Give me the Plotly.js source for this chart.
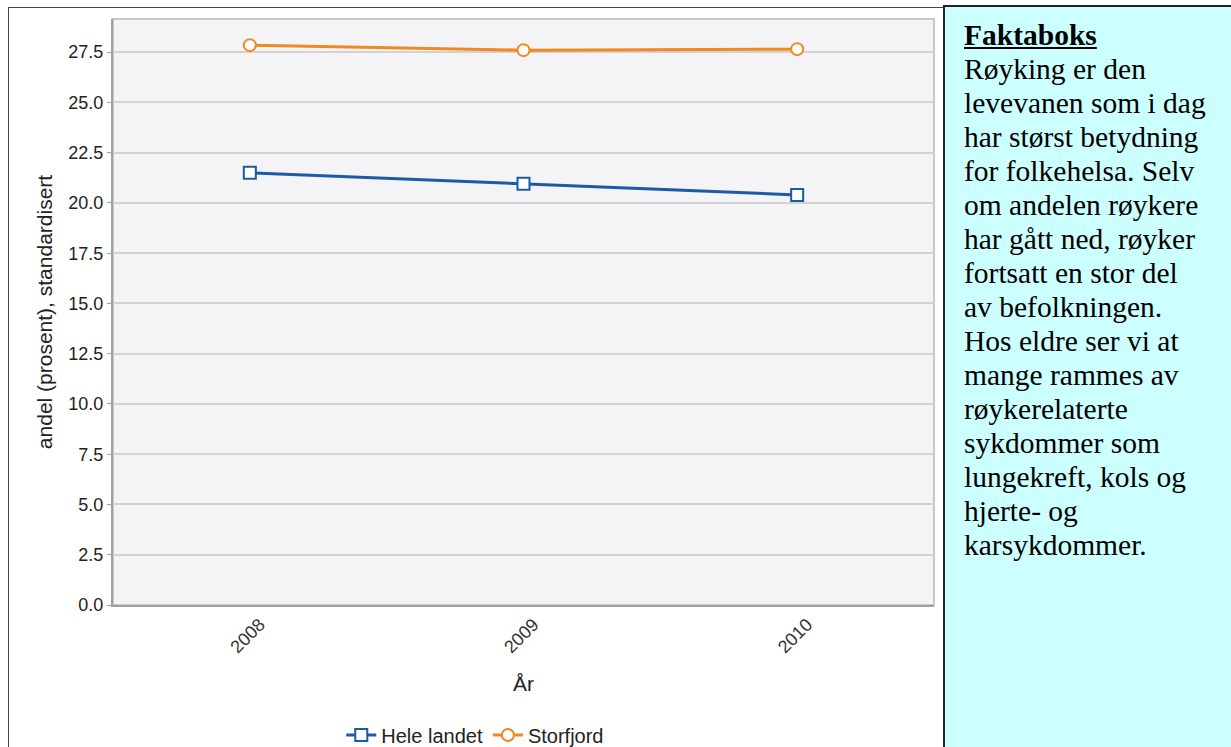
<!DOCTYPE html>
<html>
<head>
<meta charset="utf-8">
<script src="https://cdn.plot.ly/plotly-3.0.1.min.js"></script>
<style>
  html, body { margin:0; padding:0; width:1231px; height:747px; overflow:hidden; background:#ffffff; }
  #frame { position:absolute; left:8px; top:7px; width:936px; height:760px; border:1px solid #444; box-sizing:border-box; }
  #chart { position:absolute; left:0; top:0; width:943px; height:747px; }
  #box { position:absolute; left:943px; top:5px; width:300px; height:760px; background:#ccffff; border:2px solid #222; box-sizing:border-box;
         padding:11px 0 0 19px; font-family:"Liberation Serif","Times New Roman",serif; font-size:29.5px; line-height:34px; color:#000; white-space:nowrap; }
  #box b { text-decoration:underline; }
</style>
</head>
<body>
<div id="frame"></div>
<div id="chart"></div>
<div id="box"><b>Faktaboks</b><br>Røyking er den<br>levevanen som i dag<br>har størst betydning<br>for folkehelsa. Selv<br>om andelen røykere<br>har gått ned, røyker<br>fortsatt en stor del<br>av befolkningen.<br>Hos eldre ser vi at<br>mange rammes av<br>røykerelaterte<br>sykdommer som<br>lungekreft, kols og<br>hjerte- og<br>karsykdommer.</div>
<script>
var years = ["2008", "2009", "2010"];
var heleLandet = [21.5, 20.95, 20.4];
var storfjord = [27.85, 27.6, 27.65];
var yTicks = [0, 2.5, 5, 7.5, 10, 12.5, 15, 17.5, 20, 22.5, 25, 27.5];
var yTickText = ["0.0", "2.5", "5.0", "7.5", "10.0", "12.5", "15.0", "17.5", "20.0", "22.5", "25.0", "27.5"];

var sans = "Liberation Sans, Arial, sans-serif";

var traces = [
  {
    x: years, y: heleLandet, name: "Hele landet", type: "scatter", mode: "lines+markers",
    line: {color: "#1d5aa5", width: 3},
    marker: {symbol: "square", size: 12, color: "#ffffff", line: {color: "#1d5aa5", width: 2}}
  },
  {
    x: years, y: storfjord, name: "Storfjord", type: "scatter", mode: "lines+markers",
    line: {color: "#f0891f", width: 3},
    marker: {symbol: "circle", size: 12, color: "#ffffff", line: {color: "#f0891f", width: 2}}
  }
];

var layout = {
  width: 943, height: 747,
  margin: {l: 113, r: 9, t: 19, b: 142},
  paper_bgcolor: "rgba(0,0,0,0)",
  plot_bgcolor: "#f4f4f6",
  showlegend: true,
  legend: {
    orientation: "h", xref: "container", yref: "container",
    x: 0.504, xanchor: "center", y: 0.016, yanchor: "middle",
    font: {family: sans, size: 20, color: "#222"},
    itemwidth: 30, tracegroupgap: 0
  },
  xaxis: {
    type: "category", range: [-0.5, 2.5],
    showgrid: false, zeroline: false,
    showline: true, linecolor: "#a0a0a0", linewidth: 2,
    ticks: "", tickangle: -45, ticklabelshift: 10,
    tickfont: {family: sans, size: 18, color: "#333"},
    title: {text: "År", font: {family: sans, size: 21, color: "#222"}, standoff: 20}
  },
  yaxis: {
    range: [0, 29.15],
    tickvals: yTicks, ticktext: yTickText,
    showgrid: true, gridcolor: "#d2d2d2", gridwidth: 2,
    zeroline: false,
    showline: true, linecolor: "#a0a0a0", linewidth: 2,
    ticks: "outside", ticklen: 4, tickcolor: "#a0a0a0", tickwidth: 1,
    tickfont: {family: sans, size: 18, color: "#222"},
    title: {text: "andel (prosent), standardisert", font: {family: sans, size: 21, color: "#222"}, standoff: 10}
  },
  shapes: [
    {type: "rect", xref: "paper", yref: "paper", x0: 0, x1: 1, y0: 0, y1: 1,
     line: {color: "#c8c8c8", width: 2}, fillcolor: "rgba(0,0,0,0)", layer: "below"}
  ]
};

Plotly.newPlot("chart", traces, layout, {displayModeBar: false, staticPlot: true});
</script>
</body>
</html>
